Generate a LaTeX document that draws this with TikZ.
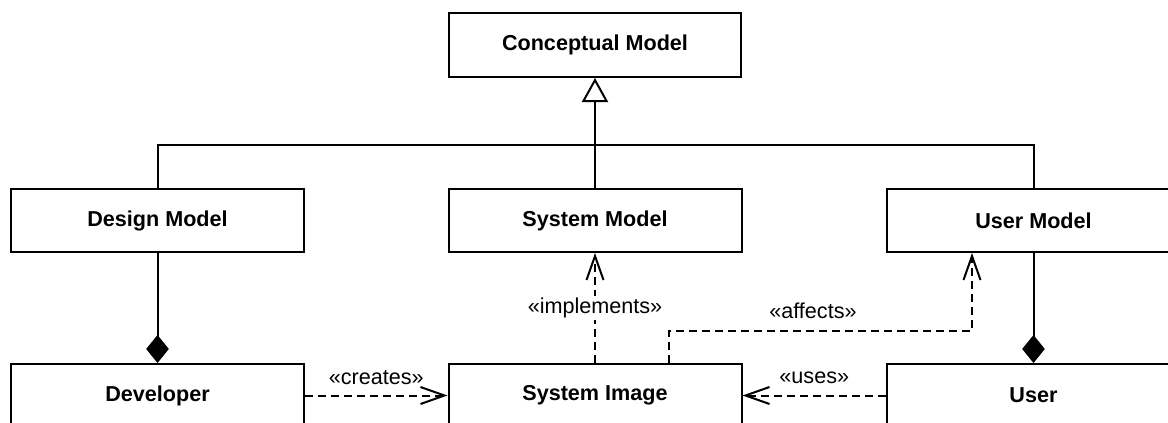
\documentclass[tikz,border=0pt]{standalone}
\usepackage{fontspec}
\setmainfont{Liberation Sans}
\usetikzlibrary{arrows.meta}
\begin{document}
\begin{tikzpicture}[x=1pt,y=-1pt,
  every node/.style={font=\fontsize{21.6}{26}\selectfont},
  cls/.style={draw, line width=2pt, minimum width=293pt, minimum height=63pt,
              inner sep=0pt, font=\fontsize{21.6}{26}\selectfont\bfseries},
  link/.style={line width=2pt},
  dep/.style={line width=2pt, dash pattern=on 8pt off 5pt,
              -{Straight Barb[length=24pt,width=17pt,line width=2pt]}},
  lbl/.style={inner sep=1.5pt}
]
\useasboundingbox (0,0) rectangle (1168,423);
\clip (0,0) rectangle (1168,423);

% classes
\node[cls, minimum width=292pt, minimum height=64pt] (cm) at (595,45) {Conceptual Model};
\node[cls] (dm)   at (157.5,220.5) {Design Model};
\node[cls] (sm)   at (595,220.5)   {System Model};
\node[cls] (um)   at (1033.5,220.5) {User Model};
\node[cls] (dev)  at (157.5,395.5) {Developer};
\node[cls] (si)   at (595,395.5)   {System Image};
\node[cls] (user) at (1033.5,395.5) {User};

% generalization tree
\coordinate (bus) at (595,145);
\draw[link] (dm.north) |- (bus) -| (um.north);
\draw[link, -{Triangle[open,length=24pt,width=26pt,line width=2pt]}] (sm.north) -- (cm.south);

% compositions
\draw[link, -{Diamond[length=28pt,width=22.6pt]}] (dm.south) -- (dev.north);
\draw[link, -{Diamond[length=28pt,width=22.6pt]}] (um.south) -- (user.north);

% dependencies
\draw[dep] (dev.east) -- node[lbl, midway, yshift=18pt] {«creates»} (si.west);
\draw[dep] (user.west) -- node[lbl, midway, yshift=18pt] {«uses»} (si.east);
\draw[dep] (si.north) -- node[lbl, midway, fill=white] {«implements»} (sm.south);
\coordinate (a1) at (669,331);
\coordinate (a2) at (972,331);
\draw[dep] (si.north -| a1) -- (a1) -- node[lbl, pos=0.475, yshift=20pt] {«affects»} (a2) -- (a2 |- um.south);
\end{tikzpicture}
\end{document}
